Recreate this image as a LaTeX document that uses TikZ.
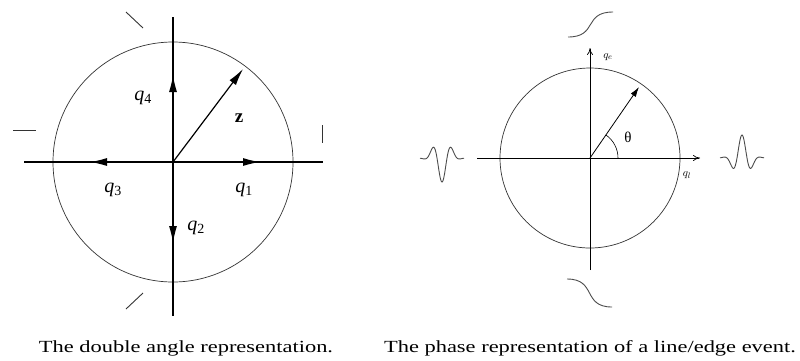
\documentclass[tikz,border=0pt]{standalone}
\usepackage{fontspec}
\setmainfont{Liberation Serif}
\usetikzlibrary{arrows.meta}

\begin{document}
\begin{tikzpicture}[x=1pt,y=-1pt,
  vec/.style={-{Latex[length=17pt,width=8pt]},line width=1.2pt},
  axis/.style={line width=1.2pt},
  thin axis/.style={-{To[length=7pt,width=6pt]},line width=0.7pt},
  ring/.style={line width=0.7pt,draw=black!80},
  mark line/.style={line width=0.9pt,draw=black!80},
  wave/.style={line width=0.9pt,draw=black!70,smooth},
  lab/.style={font=\fontsize{20}{22}\selectfont\itshape,inner sep=0pt},
  caption/.style={font=\fontsize{17}{19}\selectfont,anchor=base,inner sep=0pt,xscale=1.32}]
\useasboundingbox (0,0) rectangle (800,360);

% double angle
\coordinate (O) at (173,162);
\coordinate (xl) at (24,162);  \coordinate (xr) at (323,162);
\coordinate (yt) at (173,17);  \coordinate (yb) at (173,316);
\draw[ring] (O) circle[radius=120];
\draw[axis] (xl) -- (xr); \draw[axis] (yt) -- (yb);
\coordinate (e1) at (260,162); \coordinate (e2) at (173,243);
\coordinate (e3) at (90,162);  \coordinate (e4) at (173,75);
\coordinate (ez) at (243,69);
\draw[vec] (O) -- (e1); \draw[vec] (O) -- (e2);
\draw[vec] (O) -- (e3); \draw[vec] (O) -- (e4);
\draw[vec] (O) -- (ez);
\node[lab] (q1) at (244,190) {q\textsubscript{\upshape 1}};
\node[lab] (q2) at (196,228) {q\textsubscript{\upshape 2}};
\node[lab] (q3) at (113,190) {q\textsubscript{\upshape 3}};
\node[lab] (q4) at (143,98) {q\textsubscript{\upshape 4}};
\node[lab,font=\fontsize{19}{21}\selectfont\bfseries] (z) at (239,118) {z};
% orientation marks
\draw[mark line] (126,12) -- (143,28);
\draw[mark line] (13,130) -- (36,130);
\draw[mark line] (322,125) -- (322,143);
\draw[mark line] (126,309) -- (143,293);

% phase
\coordinate (P) at (590,158);
\coordinate (hl) at (477,158); \coordinate (hr) at (700,158);
\coordinate (vb) at (590,270); \coordinate (vt) at (590,48);
\coordinate (ph) at (639,87);
\draw[ring] (P) circle[radius=90];
\draw[thin axis] (hl) -- (hr); \draw[thin axis] (vb) -- (vt);
\draw[-{Latex[length=10pt,width=6pt]},line width=0.8pt] (P) -- (ph);
\draw[line width=0.6pt] ([xshift=28pt]P) arc[start angle=0,end angle=-55,radius=28];
\node[inner sep=0pt,font=\fontsize{15}{17}\selectfont] (th) at (628,137) {θ};
\node[inner sep=0pt,font=\fontsize{11}{13}\selectfont] (qe) at (608,57) {$q_e$};
\node[inner sep=0pt,font=\fontsize{11}{13}\selectfont] (ql) at (687,175) {$q_l$};
% events
\draw[wave,domain=-22:22,samples=90]
  plot ({442+\x},{158+24*cos(18*\x)*exp(-\x*\x/106)});
\draw[wave,domain=-22:22,samples=90]
  plot ({742+\x},{158-23*cos(18*\x)*exp(-\x*\x/106)});
\draw[wave] (568,37) .. controls (598,37) and (583,12) .. (613,12);
\draw[wave] (567,279) .. controls (597,279) and (582,307) .. (612,307);

\node[caption] (c1) at (186,352) {The double angle representation.};
\node[caption] (c2) at (590,352) {The phase representation of a line/edge event.};
\end{tikzpicture}
\end{document}
